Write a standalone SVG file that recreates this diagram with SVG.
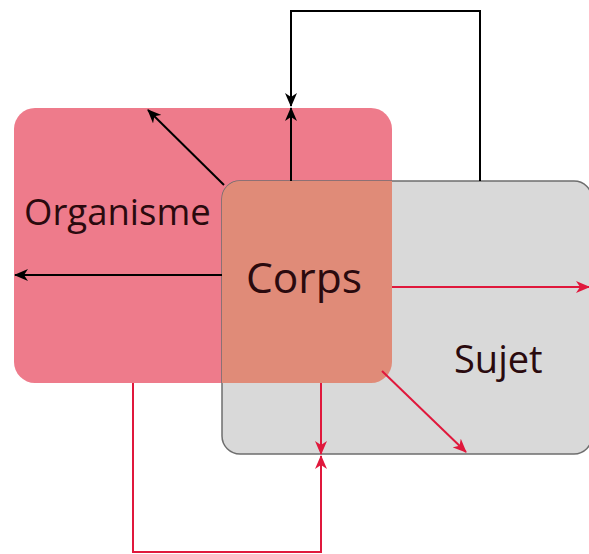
<svg xmlns="http://www.w3.org/2000/svg" width="589" height="554" viewBox="0 0 589 554">
<style>
.lbl{font-family:"Open Sans","Noto Sans",sans-serif;fill:#2a0a0e}
.blk{stroke:#000;stroke-width:2;fill:none}
.red{stroke:#e0183c;stroke-width:2;fill:none}
</style>
<defs>
<marker id="ab" viewBox="0 0 14 12" refX="13" refY="6" markerWidth="14" markerHeight="12" markerUnits="userSpaceOnUse" orient="auto">
<path d="M0,0 L14,6 L0,12 L4,6 Z" fill="#000"/>
</marker>
<marker id="ar" viewBox="0 0 14 12" refX="13" refY="6" markerWidth="14" markerHeight="12" markerUnits="userSpaceOnUse" orient="auto">
<path d="M0,0 L14,6 L0,12 L4,6 Z" fill="#e0183c"/>
</marker>
</defs>
<g id="organisme">
<rect x="14" y="108" width="378" height="275" rx="21" fill="#ee7b8b"/>
<text class="lbl" x="24" y="225" font-size="36.5">Organisme</text>
</g>
<g id="sujet">
<rect x="222" y="181" width="370" height="273" rx="18" fill="#d9d9d9" stroke="#6e6e6e" stroke-width="1.5"/>
<text class="lbl" x="454" y="373" font-size="38">Sujet</text>
</g>
<g id="corps">
<path d="M240,181 L392,181 L392,362 A21,21 0 0 1 371,383 L222,383 L222,199 A18,18 0 0 1 240,181 Z" fill="#e08b78"/>
<text class="lbl" x="246" y="293" font-size="42.5">Corps</text>
</g>
<g id="connectors">
<path class="blk" d="M480,181 L480,11 L291,11 L291,106" marker-end="url(#ab)"/>
<path class="blk" d="M291,181 L291,108" marker-end="url(#ab)"/>
<path class="blk" d="M224,185 L148,110" marker-end="url(#ab)"/>
<path class="blk" d="M222,275 L15,275" marker-end="url(#ab)"/>
<path class="red" d="M392,287 L589,287" marker-end="url(#ar)"/>
<path class="red" d="M382,371 L466,452" marker-end="url(#ar)"/>
<path class="red" d="M321,383 L321,454" marker-end="url(#ar)"/>
<path class="red" d="M133,383 L133,552 L321,552 L321,456" marker-end="url(#ar)"/>
</g>
</svg>
